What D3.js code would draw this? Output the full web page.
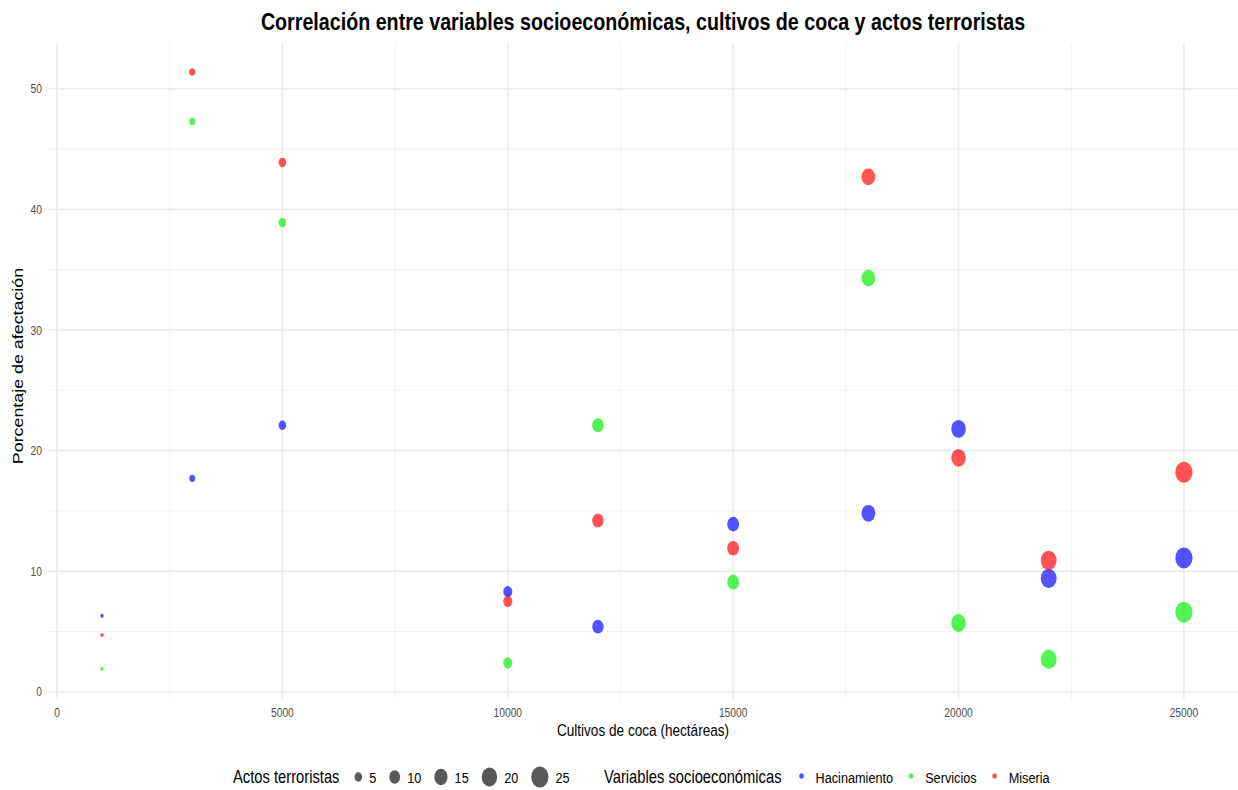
<!DOCTYPE html>
<html>
<head>
<meta charset="utf-8">
<script src="https://cdn.jsdelivr.net/npm/d3@7"></script>
<style>
  body { margin: 0; background: #fff; }
  text { font-family: "Liberation Sans", Arial, sans-serif; }
</style>
</head>
<body>
<svg id="chart" width="1238" height="790"></svg>
<script>
// Data
const cultivos = [1000, 3000, 5000, 10000, 12000, 15000, 18000, 20000, 22000, 25000];
const actos = [1, 3, 5, 7, 11, 12, 16, 18, 21, 25];
const hacinamiento = [6.3, 17.7, 22.1, 8.3, 5.4, 13.9, 14.8, 21.8, 9.4, 11.1];
const servicios = [1.9, 47.3, 38.9, 2.4, 22.1, 9.1, 34.3, 5.7, 2.7, 6.6];
const miseria = [4.7, 51.4, 43.9, 7.5, 14.2, 11.9, 42.7, 19.4, 10.9, 18.2];

const seriesNames = ["Hacinamiento", "Servicios", "Miseria"];
const seriesColors = ["#0000ff", "#00ee00", "#ff0000"];
const sizeBreaks = [5, 10, 15, 20, 25];
const xTicks = [0, 5000, 10000, 15000, 20000, 25000];
const yTicks = [0, 10, 20, 30, 40, 50];

const MARGIN = {top: 43, right: 0, bottom: 91, left: 48};
const WIDTH = 1238, HEIGHT = 790;
const SQUASH = 0.82; // the picture is narrowed horizontally

const svg = d3.select("#chart");

const x = d3.scaleLinear().domain([-200, 26200]).range([MARGIN.left, WIDTH - MARGIN.right]);
const y = d3.scaleLinear().domain([-0.6, 53.8]).range([HEIGHT - MARGIN.bottom, MARGIN.top]);
const r = d3.scaleSqrt().domain([0, 25]).range([0, 10.5]);
const color = d3.scaleOrdinal().domain(seriesNames).range(seriesColors);

function squashText(sel, px, py) {
    sel.attr("transform", `translate(${px},${py}) scale(${SQUASH},1)`);
    return sel;
}

// grid
const grid = svg.append("g");
const xMinor = [2500, 7500, 12500, 17500, 22500];
const yMinor = [5, 15, 25, 35, 45];
grid.selectAll(".xminor").data(xMinor).join("line")
    .attr("x1", d => x(d)).attr("x2", d => x(d))
    .attr("y1", MARGIN.top).attr("y2", HEIGHT - MARGIN.bottom)
    .attr("stroke", "#f2f2f2").attr("stroke-width", 1);
grid.selectAll(".yminor").data(yMinor).join("line")
    .attr("y1", d => y(d)).attr("y2", d => y(d))
    .attr("x1", MARGIN.left).attr("x2", WIDTH - MARGIN.right)
    .attr("stroke", "#f2f2f2").attr("stroke-width", 1);
grid.selectAll(".xmajor").data(xTicks).join("line")
    .attr("x1", d => x(d)).attr("x2", d => x(d))
    .attr("y1", MARGIN.top).attr("y2", HEIGHT - MARGIN.bottom)
    .attr("stroke", "#ebebeb").attr("stroke-width", 1.6);
grid.selectAll(".ymajor").data(yTicks).join("line")
    .attr("y1", d => y(d)).attr("y2", d => y(d))
    .attr("x1", MARGIN.left).attr("x2", WIDTH - MARGIN.right)
    .attr("stroke", "#ebebeb").attr("stroke-width", 1.6);

// tick labels
svg.append("g").selectAll("text").data(xTicks).join("text")
    .each(function(d) { squashText(d3.select(this), x(d), HEIGHT - MARGIN.bottom + 18); })
    .attr("text-anchor", "middle").attr("font-size", 12.5).attr("fill", "#4d4d4d")
    .text(d => d);
svg.append("g").selectAll("text").data(yTicks).join("text")
    .each(function(d) { squashText(d3.select(this), MARGIN.left - 6, y(d) + 4.5); })
    .attr("text-anchor", "end").attr("font-size", 12.5).attr("fill", "#4d4d4d")
    .text(d => d);

// axis titles
squashText(svg.append("text"), 643, 736)
    .attr("text-anchor", "middle").attr("font-size", 16.6).attr("fill", "#000")
    .text("Cultivos de coca (hectáreas)");
svg.append("text")
    .attr("transform", `translate(23,366) rotate(-90) scale(${1 / SQUASH * 0.95},1)`)
    .attr("text-anchor", "middle").attr("font-size", 15.4).attr("fill", "#000")
    .text("Porcentaje de afectación");

// title
squashText(svg.append("text"), 643, 30)
    .attr("text-anchor", "middle").attr("font-size", 24).attr("font-weight", "bold")
    .text("Correlación entre variables socioeconómicas, cultivos de coca y actos terroristas");

// points
const points = [];
[hacinamiento, servicios, miseria].forEach((vals, si) => {
    vals.forEach((v, i) => points.push({serie: seriesNames[si], x: cultivos[i], y: v, size: actos[i]}));
});
svg.append("g").selectAll("ellipse").data(points).join("ellipse")
    .attr("cx", d => x(d.x)).attr("cy", d => y(d.y))
    .attr("rx", d => r(d.size) * SQUASH).attr("ry", d => r(d.size))
    .attr("fill", d => color(d.serie)).attr("fill-opacity", 0.68);

// legend
const legend = svg.append("g");
const ly = 777;
let cursor = 233;
function legendText(str, size) {
    const t = squashText(legend.append("text"), cursor, ly + 5.5)
        .attr("font-size", size).attr("fill", "#000").text(str);
    cursor += t.node().getComputedTextLength() * SQUASH;
    return t;
}
legendText("Actos terroristas", 18);
cursor += 15;
sizeBreaks.forEach(b => {
    const rr = r(b);
    legend.append("ellipse")
        .attr("cx", cursor + rr * SQUASH).attr("cy", ly)
        .attr("rx", rr * SQUASH).attr("ry", rr)
        .attr("fill", "#000").attr("fill-opacity", 0.65);
    cursor += rr * SQUASH * 2 + 7;
    legendText(String(b), 15.5);
    cursor += 13;
});
cursor = 604;
legendText("Variables socioeconómicas", 18);
cursor += 18;
seriesNames.forEach(n => {
    legend.append("ellipse")
        .attr("cx", cursor + 2).attr("cy", ly - 1)
        .attr("rx", 2.3).attr("ry", 2.8)
        .attr("fill", color(n)).attr("fill-opacity", 0.68);
    cursor += 16;
    legendText(n, 15.5);
    cursor += 16;
});
</script>
</body>
</html>
